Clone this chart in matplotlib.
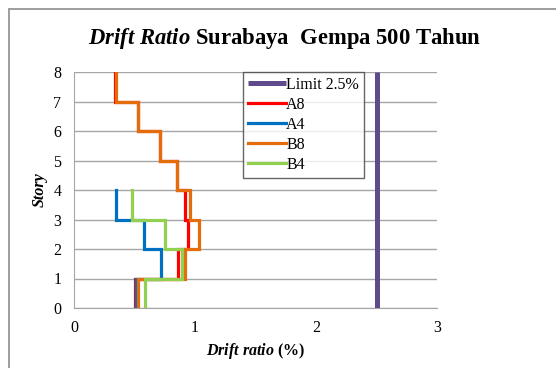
import numpy as np
import matplotlib
matplotlib.use("Agg")
import matplotlib.pyplot as plt
from matplotlib.patches import Rectangle

plt.rcParams['font.family'] = ['Liberation Serif', 'DejaVu Serif']
plt.rcParams['mathtext.fontset'] = 'custom'
plt.rcParams['mathtext.rm'] = 'Liberation Serif:bold'
plt.rcParams['mathtext.it'] = 'Liberation Serif:italic:bold'
plt.rcParams['mathtext.bf'] = 'Liberation Serif:bold'

# drift ratio (%) per story segment, bottom story first
drift_A8 = [0.50, 0.86, 0.945, 0.92, 0.85, 0.71, 0.53, 0.34]
drift_A4 = [0.51, 0.72, 0.58, 0.35]
drift_B8 = [0.53, 0.92, 1.03, 0.96, 0.85, 0.71, 0.53, 0.35]
drift_B4 = [0.59, 0.89, 0.75, 0.48]
limit = 2.5

series = [
    ('A8', drift_A8, '#FF0000'),
    ('A4', drift_A4, '#0070C0'),
    ('B8', drift_B8, '#E46C0A'),
    ('B4', drift_B4, '#92D050'),
]


def story_steps(drift):
    # each story segment drawn as a vertical piece from floor to floor
    d = np.asarray(drift)
    n = len(d)
    x = np.repeat(d, 2)
    y = np.column_stack([np.arange(n), np.arange(1, n + 1)]).ravel()
    return x, y


fig = plt.figure(figsize=(5.56, 3.68), dpi=100)
ax = fig.add_axes([74/556, 1 - 308/368, 363/556, 236/368])

ax.plot([limit, limit], [0, 8], color='#5F4B8B', lw=3.6, label='Limit 2.5%',
        solid_capstyle='butt')
for name, d, c in series:
    x, y = story_steps(d)
    ax.plot(x, y, color=c, lw=2.3, label=name, solid_joinstyle='miter')

ax.set_xlim(0, 3)
ax.set_ylim(0, 8)
ax.set_xticks([0, 1, 2, 3])
ax.set_yticks(range(9))
ax.yaxis.grid(True, color='#A6A6A6', lw=1)
ax.set_axisbelow(True)
for s in ['top', 'right']:
    ax.spines[s].set_visible(False)
for s in ['left', 'bottom']:
    ax.spines[s].set_color('#A6A6A6')
ax.tick_params(length=0, labelsize=11.5, pad=9)

ax.set_xlabel(r'$\it{Drift\ ratio}$ (%)', fontsize=11.5, fontweight='bold', labelpad=3)
ax.set_ylabel('Story', fontsize=11.5, fontweight='bold', style='italic', labelpad=4)

fig.text(0.512, 0.895, r'$\it{Drift\ Ratio}$ Surabaya  Gempa 500 Tahun',
         ha='center', va='center', fontsize=16.3, fontweight='bold')

leg = ax.legend(loc='upper left', bbox_to_anchor=(0.466, 1.0), fontsize=11.5,
                frameon=True, fancybox=False, handlelength=2.4, handletextpad=0.0,
                labelspacing=0.25, borderpad=0.3, borderaxespad=0.0)
leg.get_frame().set_edgecolor('#404040')
leg.get_frame().set_linewidth(1.0)

fig.add_artist(Rectangle((9/556, -0.1), 1.2, 1 - 9/368 + 0.1,
                         transform=fig.transFigure, fill=False,
                         edgecolor='#8C8C8C', lw=1.2))

fig.savefig('out.png', dpi=100)
